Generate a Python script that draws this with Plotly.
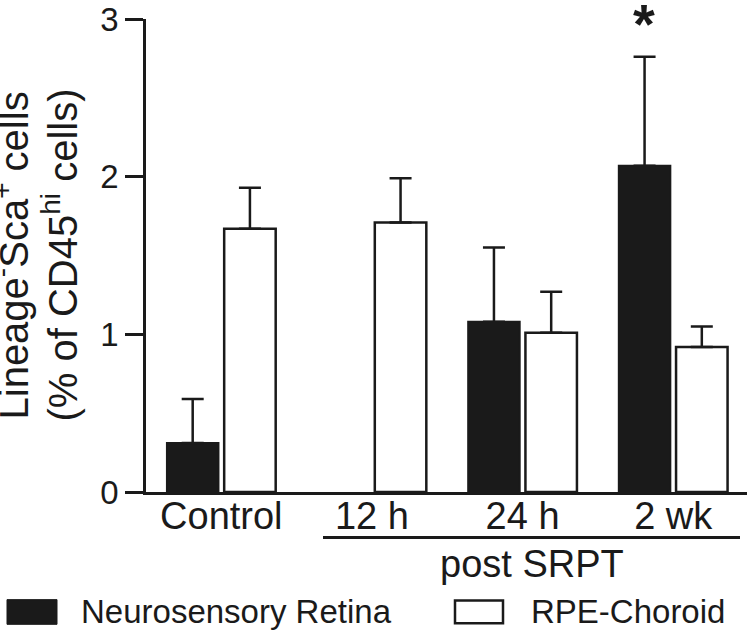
import plotly.graph_objects as go

# data
groups = ["Control", "12 h", "24 h", "2 wk"]
series_names = ["Neurosensory Retina", "RPE-Choroid"]
retina_mean = [0.31, None, 1.08, 2.07]
retina_err = [0.28, None, 0.47, 0.69]
rpe_mean = [1.67, 1.71, 1.01, 0.92]
rpe_err = [0.26, 0.28, 0.26, 0.13]
y_ticks = [0, 1, 2, 3]
y_title = ["Lineage<sup>-</sup>Sca<sup>+</sup> cells",
           "(% of CD45<sup>hi</sup> cells)"]

INK = "#1a1a1a"
FONT = "Arial, Liberation Sans, sans-serif"

W, H = 748, 633
ML, MR, MT, MB = 146, 1, 13, 141
PW, PH = W - ML - MR, H - MT - MB


def px_x(p):
    return (p - ML) / PW


def px_y(p):
    return (H - MB - p) / PH


fig = go.Figure()

fig.add_trace(go.Bar(
    x=groups,
    y=retina_mean,
    name=series_names[0],
    marker=dict(color=INK, line=dict(color=INK, width=2)),
    error_y=dict(type="data", symmetric=False, array=retina_err,
                 arrayminus=[0 if e is not None else None for e in retina_err],
                 color=INK, thickness=2.5, width=11),
))

fig.add_trace(go.Bar(
    x=groups,
    y=rpe_mean,
    name=series_names[1],
    marker=dict(color="white", line=dict(color=INK, width=2.5)),
    error_y=dict(type="data", symmetric=False, array=rpe_err,
                 arrayminus=[0] * len(rpe_err),
                 color=INK, thickness=2.5, width=11),
))

fig.update_layout(
    width=W,
    height=H,
    margin=dict(l=ML, r=MR, t=MT, b=MB),
    paper_bgcolor="white",
    plot_bgcolor="white",
    barmode="group",
    bargap=0.24,
    bargroupgap=0.1,
    showlegend=False,
    font=dict(family=FONT, color=INK),
)

fig.update_xaxes(
    type="category",
    range=[-0.5, 3.49],
    showline=True,
    linecolor=INK,
    linewidth=2.5,
    ticks="",
    ticklabelstandoff=-11,
    showgrid=False,
    zeroline=False,
    tickfont=dict(size=38, family=FONT, color=INK),
)

fig.update_yaxes(
    range=[0, 3],
    tickvals=y_ticks,
    showline=True,
    linecolor=INK,
    linewidth=2.5,
    ticks="outside",
    ticklen=18,
    tickwidth=2.5,
    tickcolor=INK,
    showgrid=False,
    zeroline=False,
    ticklabeloverflow="allow",
    tickfont=dict(size=33, family=FONT, color=INK),
)

# significance mark over the 2 wk retina bar
fig.add_annotation(
    x=groups[3], y=retina_mean[3] + retina_err[3],
    xref="x", yref="y", xshift=-29, yshift=33,
    text="<b>*</b>", showarrow=False, yanchor="middle",
    font=dict(size=56, family=FONT, color=INK),
)

# y axis title, one annotation per line
for line, cx in zip(y_title, [11, 60]):
    fig.add_annotation(
        x=px_x(cx), y=0.5, xref="paper", yref="paper",
        text=line, textangle=-90, showarrow=False,
        xanchor="center", yanchor="middle",
        font=dict(size=40, family=FONT, color=INK),
    )

# "post SRPT" bracket
fig.add_shape(type="line", xref="paper", yref="paper",
              x0=px_x(323), x1=px_x(740), y0=px_y(538), y1=px_y(538),
              line=dict(color=INK, width=3))
fig.add_annotation(
    x=px_x(532), y=px_y(564.5), xref="paper", yref="paper",
    text="post SRPT", showarrow=False, xanchor="center", yanchor="middle",
    font=dict(size=38, family=FONT, color=INK),
)

# legend drawn by hand so the swatches match the original size
fig.add_shape(type="rect", xref="paper", yref="paper",
              x0=px_x(7), x1=px_x(57), y0=px_y(626), y1=px_y(601),
              fillcolor=INK, line=dict(color=INK, width=1))
fig.add_annotation(
    x=px_x(79), y=px_y(613.5), xref="paper", yref="paper",
    text=series_names[0], showarrow=False, xanchor="left", yanchor="middle",
    font=dict(size=33, family=FONT, color=INK),
)
fig.add_shape(type="rect", xref="paper", yref="paper",
              x0=px_x(455), x1=px_x(503), y0=px_y(625), y1=px_y(602),
              fillcolor="white", line=dict(color=INK, width=2.5))
fig.add_annotation(
    x=px_x(529), y=px_y(613.5), xref="paper", yref="paper",
    text=series_names[1], showarrow=False, xanchor="left", yanchor="middle",
    font=dict(size=33, family=FONT, color=INK),
)

fig.write_html("out.html", config={"displayModeBar": False},
               post_script="document.body.style.margin='0';")
